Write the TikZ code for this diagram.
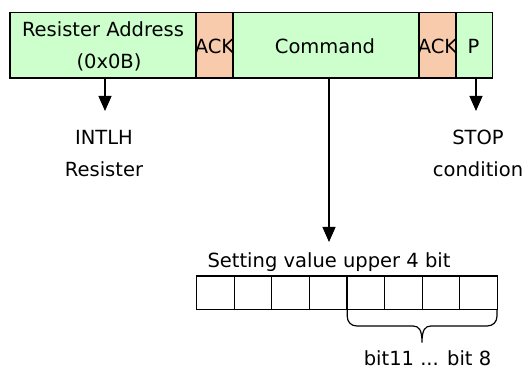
\documentclass[tikz,border=0pt]{standalone}
\usepackage{fontspec}
\setmainfont{DejaVu Sans}
\usetikzlibrary{arrows.meta}
\definecolor{fieldgreen}{RGB}{204,255,204}
\definecolor{ackorange}{RGB}{248,203,173}
\begin{document}
\begin{tikzpicture}[x=1pt,y=-1pt,
  field/.style={draw=black,line width=1.2pt,fill=fieldgreen},
  ackfield/.style={draw=black,line width=1.2pt,fill=ackorange},
  cell/.style={draw=black,line width=1.2pt},
  lbl/.style={font=\fontsize{19.5}{23}\selectfont,inner sep=0pt,anchor=base},
  pointer/.style={line width=1.2pt,-{Triangle[width=13pt,length=15pt]}}]
\useasboundingbox (0,0) rectangle (527,379);

% frame fields
\path[field]    (10,12.5)  rectangle (196,78);
\path[ackfield] (196,12.5) rectangle (233,78);
\path[field]    (233,12.5) rectangle (419,78);
\path[ackfield] (419,12.5) rectangle (456,78);
\path[field]    (456,12.5) rectangle (492.5,78);

\node[lbl] (addr1) at (103,36.7) {Resister Address};
\node[lbl] (addr2) at (109,69) {(0x0B)};
\node[lbl] (ack1) at (214.5,54) {ACK};
\node[lbl] (cmd) at (325,54) {Command};
\node[lbl] (ack2) at (437.5,54) {ACK};
\node[lbl] (stopP) at (473.5,54) {P};

\coordinate (addrOut) at (105,78);
\coordinate (cmdOut) at (329,78);
\coordinate (pOut) at (476,78);

% targets
\node[lbl] (intlh) at (104,145) {INTLH};
\node[lbl] (intlh2) at (104,177) {Resister};
\node[lbl] (stop) at (478,145) {STOP};
\node[lbl] (stop2) at (478,177) {condition};

\coordinate (addrTip) at (105,111);
\coordinate (pTip) at (476,111);
\coordinate (cmdTip) at (329,242);

\draw[pointer] (addrOut) -- (addrTip);
\draw[pointer] (pOut) -- (pTip);
\draw[pointer] (cmdOut) -- (cmdTip);

% setting value register
\node[lbl] (setting) at (329,267) {Setting value upper 4 bit};
\foreach \i in {0,...,7} {
  \path[cell] ({196.7+37.58*\i},276) rectangle ({196.7+37.58*(\i+1)},309.5);
}
\coordinate (bL) at (347.2,309.5);
\coordinate (bR) at (497,309.5);
\coordinate (bTip) at (422,342.5);
\draw[line width=1.2pt]
  (bL) -- (347.2,316) .. controls (347.2,322) and (351,326) .. (357,326)
  -- (413,326) .. controls (419,326) and (422,330) .. (bTip)
  .. controls (422,330) and (425,326) .. (431,326)
  -- (487,326) .. controls (493,326) and (497,322) .. (497,316) -- (bR);
\node[lbl] (bits) at (427.5,365) {bit11 ... bit 8};
\end{tikzpicture}
\end{document}
